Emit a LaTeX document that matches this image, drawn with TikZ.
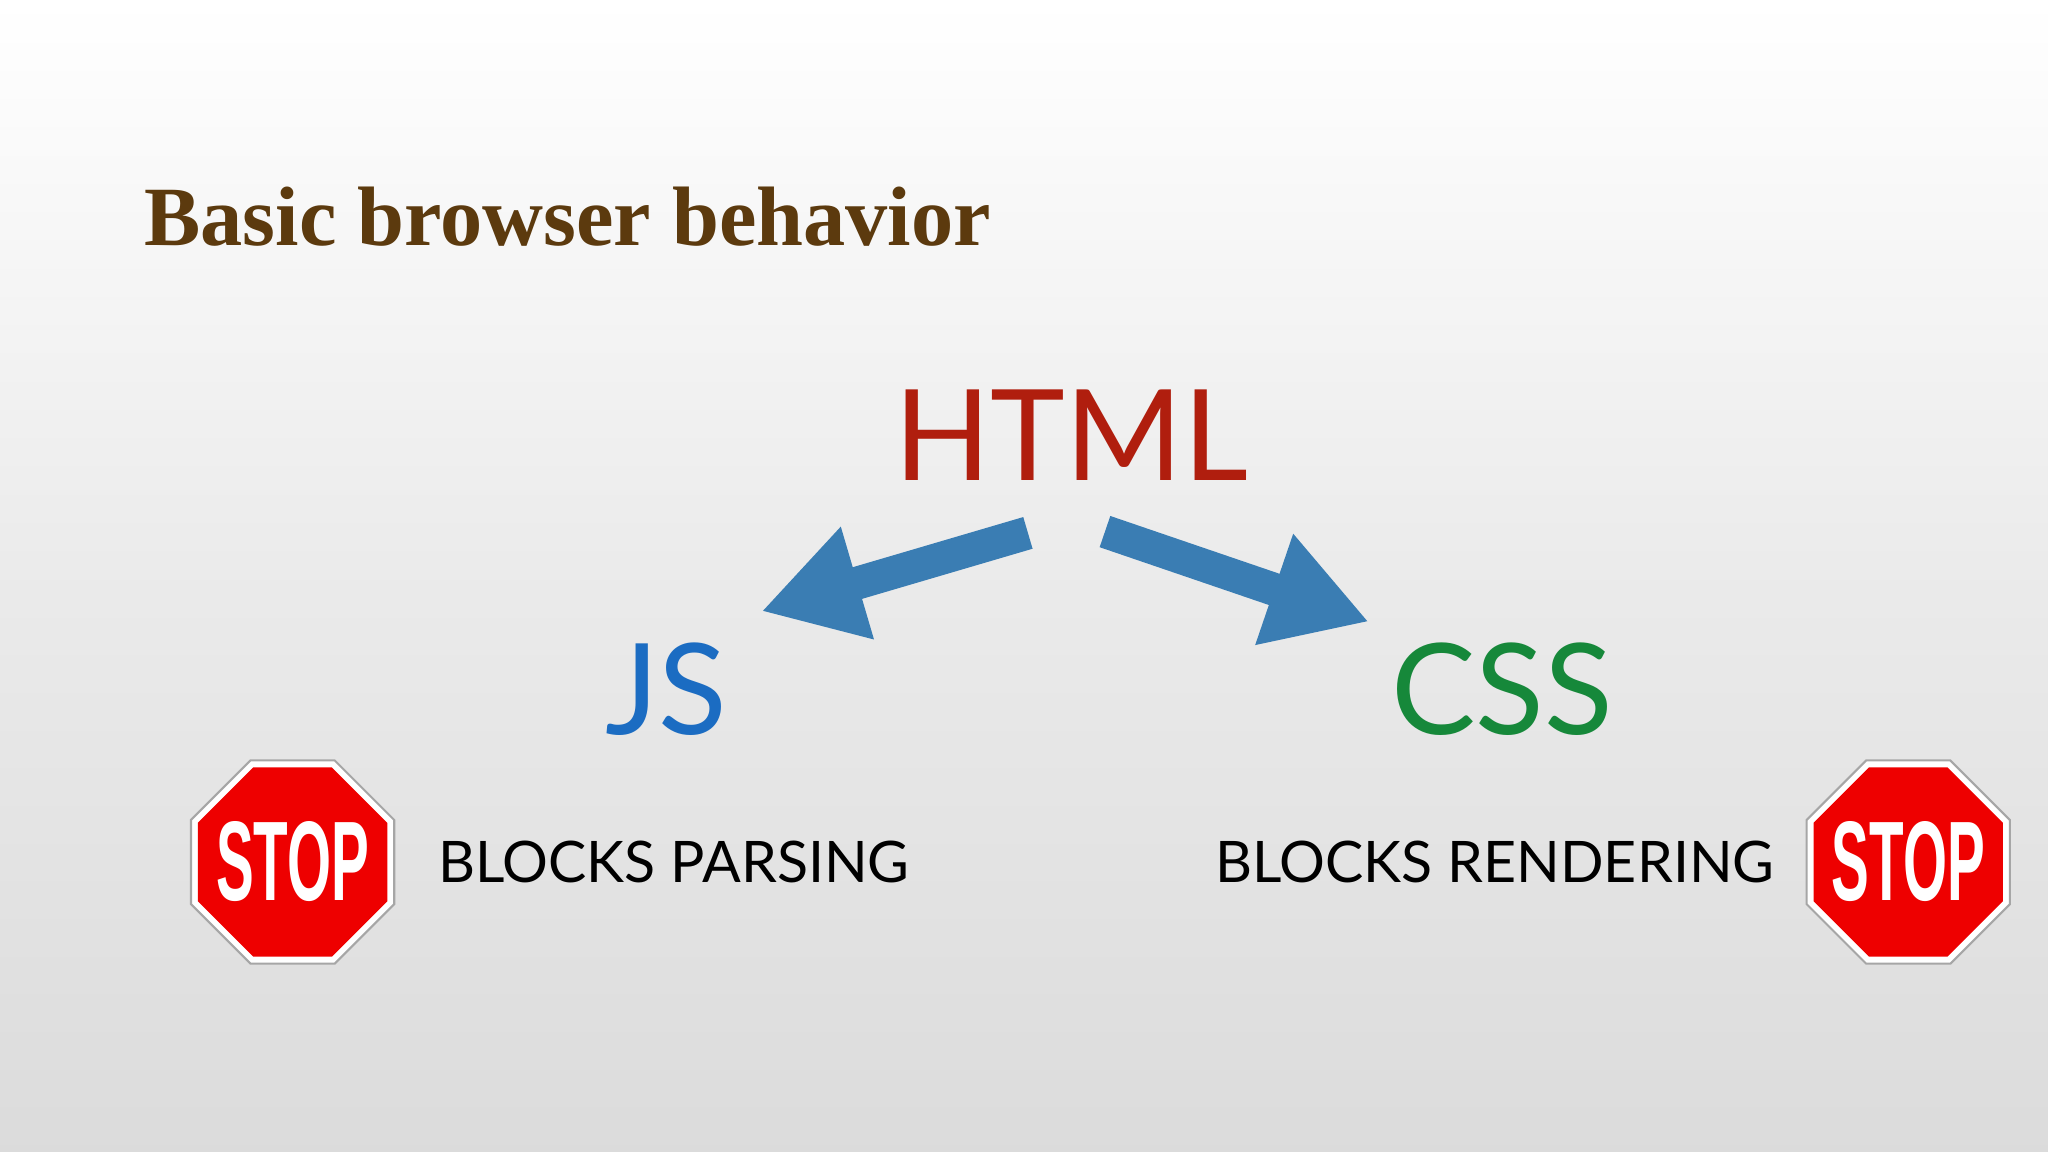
\documentclass[tikz,border=0pt]{standalone}
\usepackage{fontspec}
\setmainfont{Liberation Serif}
\newfontfamily\gill{Lato}
\newfontfamily\stopf{Liberation Sans}
\usetikzlibrary{shapes.geometric,arrows.meta}
\definecolor{titlec}{HTML}{5C3A0E}
\definecolor{htmlc}{HTML}{B01E0E}
\definecolor{jsc}{HTML}{1B6CC2}
\definecolor{cssc}{HTML}{16883A}
\definecolor{arrc}{HTML}{3A7DB3}
\definecolor{stopc}{HTML}{EE0000}
\tikzset{
  big/.style={font=\gill\fontsize{36}{36}\selectfont},
  label/.style={font=\gill\fontsize{16.3}{18}\selectfont, text=black},
  fat/.style={arrc, line width=0.33cm, -{Triangle[length=1.0cm,width=1.1cm]}},
  octo/.style={regular polygon, regular polygon sides=8, inner sep=0pt, outer sep=0pt},
  stopouter/.style={octo, minimum size=2.2cm, fill=white, draw=gray!70, line width=0.6pt},
  stopsign/.style={octo, minimum size=2.05cm, fill=stopc},
  stoptext/.style={text=white, inner sep=0pt, font=\stopf\bfseries\fontsize{23}{23}\selectfont}
}
\begin{document}
\begin{tikzpicture}[x=0.01306cm,y=-0.01306cm]
\shade[top color=white, bottom color=black!14, middle color=black!8] (0,0) rectangle (1568,882);
\useasboundingbox (0,0) rectangle (1568,882);
\node[anchor=base west, text=titlec, font=\bfseries\fontsize{24}{24}\selectfont, inner sep=0pt] (title) at (110,188) {Basic browser behavior};
\node[big, text=htmlc] (html) at (820,333) {HTML};
\node[big, text=jsc] (js) at (510,528) {JS};
\node[big, text=cssc] (css) at (1150,528) {CSS};
\coordinate (a1s) at (787,408); \coordinate (a1e) at (583,468);
\coordinate (a2s) at (846,407); \coordinate (a2e) at (1048,476);
\draw[fat] (a1s) -- (a1e);
\draw[fat] (a2s) -- (a2e);
\node[stopouter] (stop1o) at (224,660) {};
\node[stopsign] (stop1) at (224,660) {};
\node[stoptext] (stop1t) at (stop1) {\scalebox{0.7}[1.4]{STOP}};
\node[stopouter] (stop2o) at (1461,660) {};
\node[stopsign] (stop2) at (1461,660) {};
\node[stoptext] (stop2t) at (stop2) {\scalebox{0.7}[1.4]{STOP}};
\node[label, anchor=west] (bp) at (326,660) {BLOCKS PARSING};
\node[label, anchor=east] (br) at (1368,660) {BLOCKS RENDERING};
\end{tikzpicture}
\end{document}
